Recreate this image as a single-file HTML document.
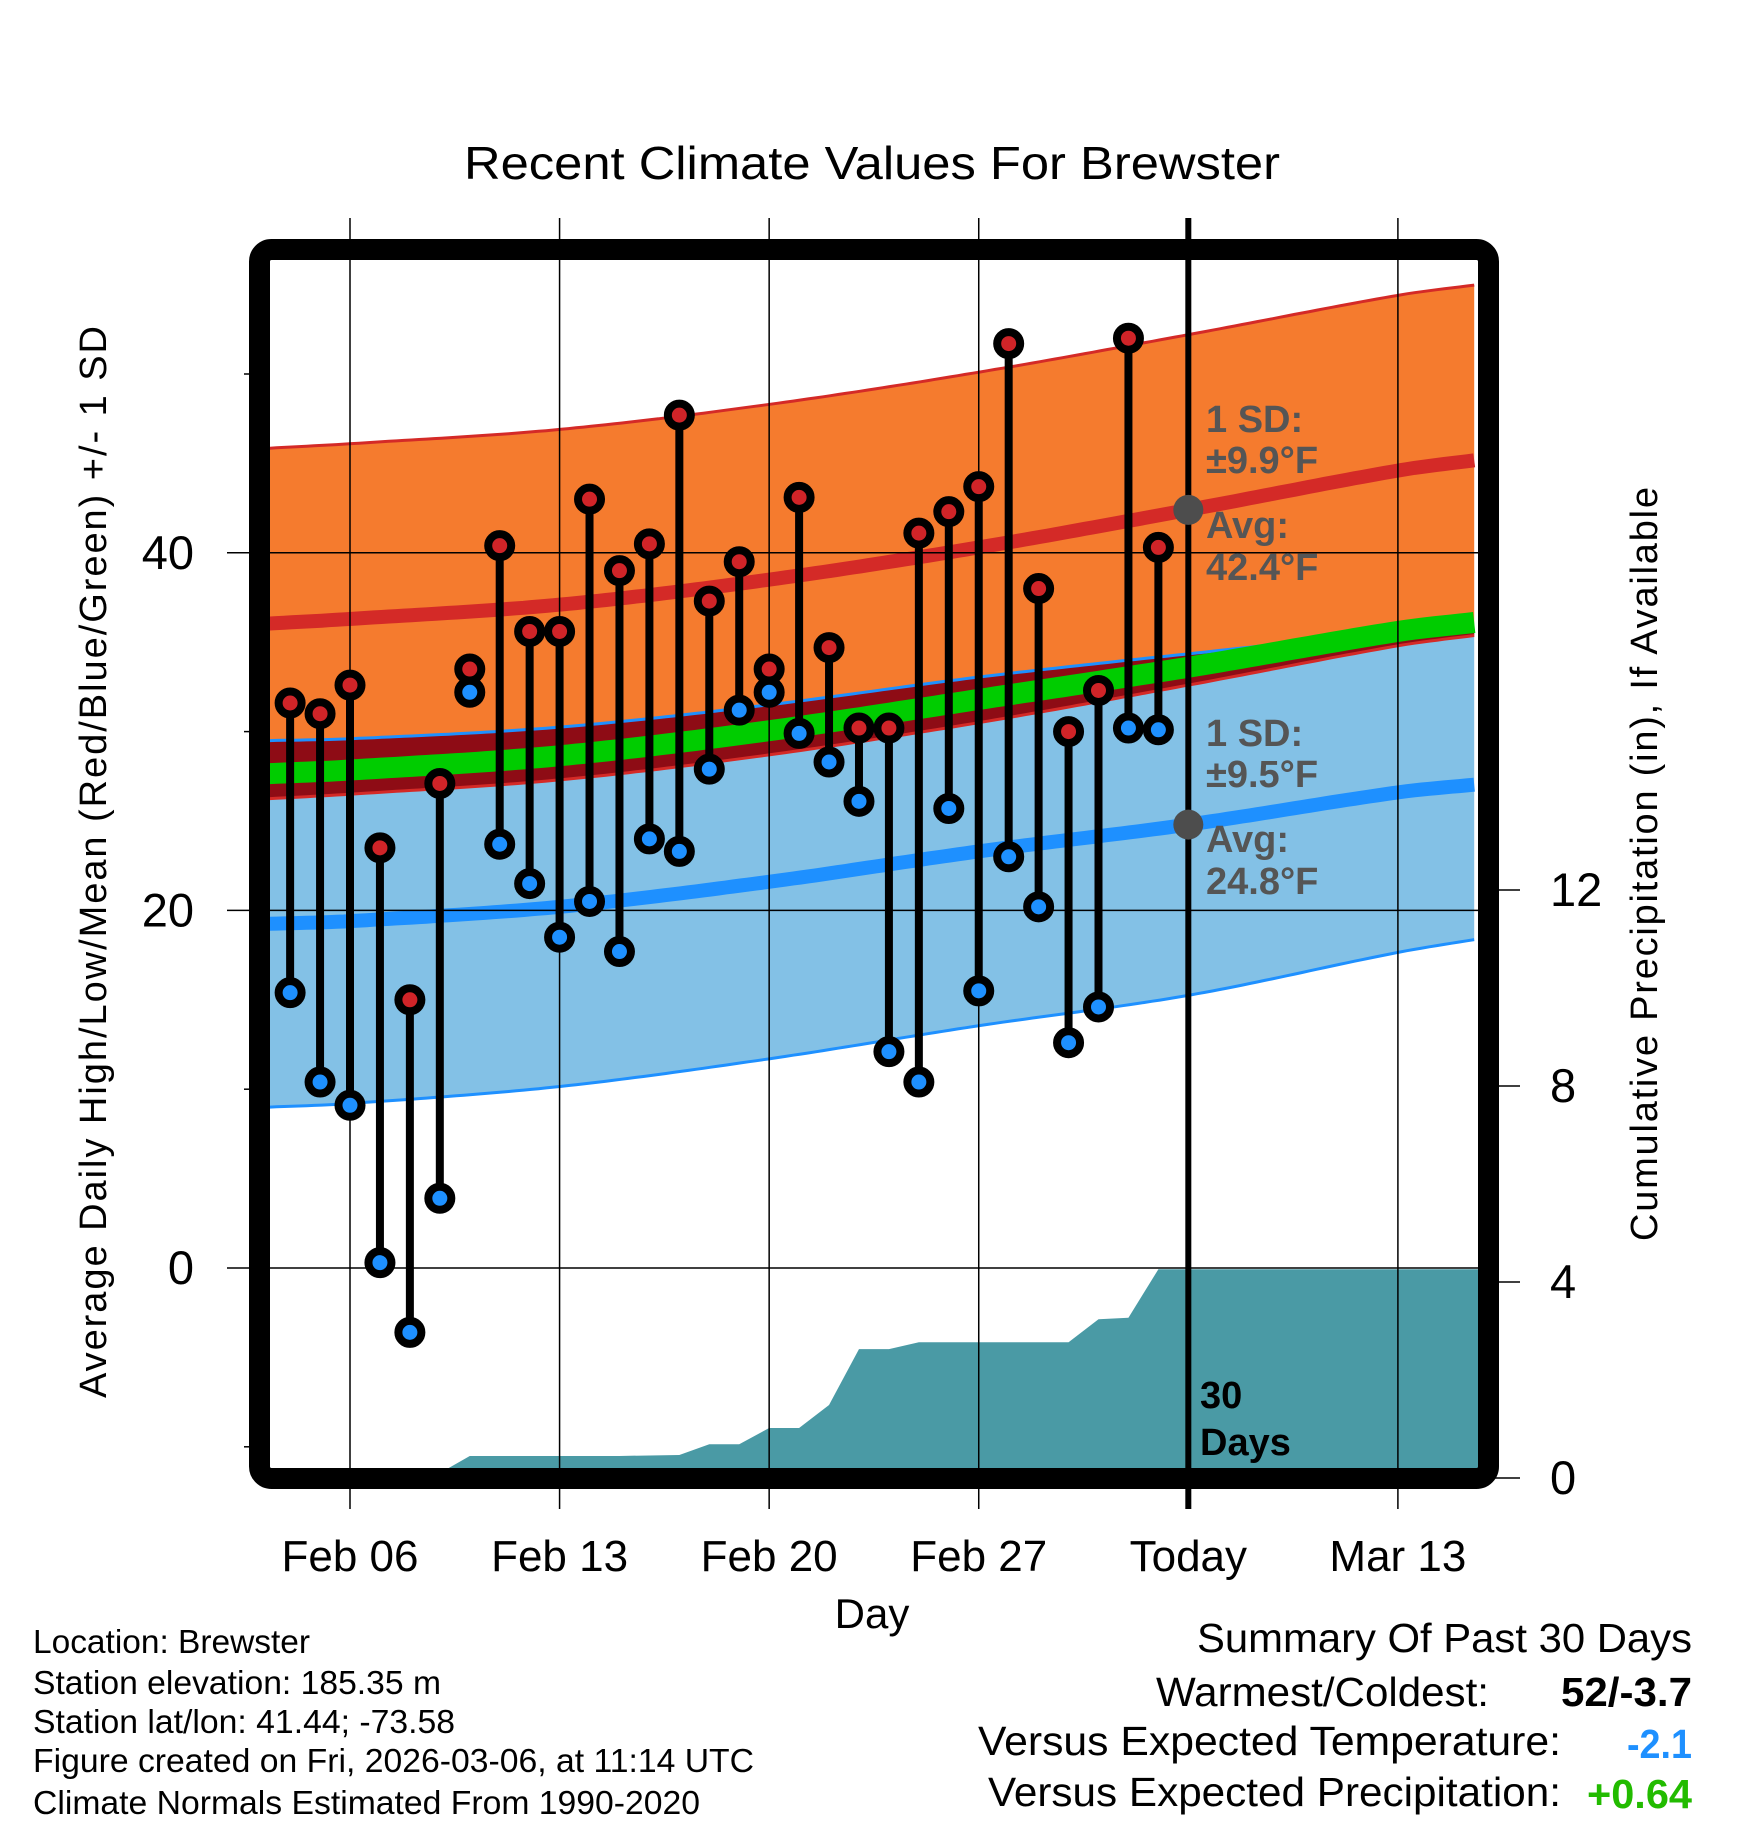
<!DOCTYPE html>
<html><head><meta charset="utf-8"><style>
html,body{margin:0;padding:0;background:#fff;}
svg{display:block;font-family:"Liberation Sans",sans-serif;}
</style></head><body>
<svg id="chart" width="1748" height="1828" viewBox="0 0 1748 1828" xmlns="http://www.w3.org/2000/svg">
<defs><clipPath id="plotclip"><rect x="270" y="260" width="1208" height="1208"/></clipPath></defs>
<text x="872" y="179" font-size="46" text-anchor="middle" textLength="816" lengthAdjust="spacingAndGlyphs">Recent Climate Values For Brewster</text>
<g id="fills" clip-path="url(#plotclip)"></g>
<g id="grid"></g>
<g id="marks"></g>
<rect x="259.5" y="249.5" width="1229" height="1229" rx="12" fill="none" stroke="#000" stroke-width="21"/>
<g id="axes"></g>
<text transform="translate(106,862) rotate(-90)" font-size="38" text-anchor="middle" textLength="1072">Average Daily High/Low/Mean (Red/Blue/Green) +/- 1 SD</text>
<text transform="translate(1657,864) rotate(-90)" font-size="38" text-anchor="middle" textLength="754">Cumulative Precipitation (in), If Available</text>
<text x="872" y="1628" font-size="42" text-anchor="middle">Day</text>
<g font-size="33">
<text x="33" y="1653" textLength="277" lengthAdjust="spacingAndGlyphs">Location: Brewster</text>
<text x="33" y="1694" textLength="408" lengthAdjust="spacingAndGlyphs">Station elevation: 185.35 m</text>
<text x="33" y="1733" textLength="422" lengthAdjust="spacingAndGlyphs">Station lat/lon: 41.44; -73.58</text>
<text x="33" y="1772" textLength="721" lengthAdjust="spacingAndGlyphs">Figure created on Fri, 2026-03-06, at 11:14 UTC</text>
<text x="33" y="1814" textLength="667" lengthAdjust="spacingAndGlyphs">Climate Normals Estimated From 1990-2020</text>
</g>
<g font-size="41">
<text x="1197" y="1652" textLength="495" lengthAdjust="spacingAndGlyphs">Summary Of Past 30 Days</text>
<text x="1156" y="1706" textLength="333" lengthAdjust="spacingAndGlyphs">Warmest/Coldest:</text>
<text x="1561" y="1706" font-weight="bold" textLength="131" lengthAdjust="spacingAndGlyphs">52/-3.7</text>
<text x="978" y="1755" textLength="583" lengthAdjust="spacingAndGlyphs">Versus Expected Temperature:</text>
<text x="1627" y="1758" font-weight="bold" fill="#1e90ff" textLength="65" lengthAdjust="spacingAndGlyphs">-2.1</text>
<text x="988" y="1806" textLength="573" lengthAdjust="spacingAndGlyphs">Versus Expected Precipitation:</text>
<text x="1587" y="1808" font-weight="bold" fill="#22bb00" textLength="105" lengthAdjust="spacingAndGlyphs">+0.64</text>
</g>
</svg>
<script>
// data days are offsets from Feb 06
const dataDays = [-2,-1,0,1,2,3,4,5,6,7,8,9,10,11,12,13,14,15,16,17,18,19,20,21,22,23,24,25,26,27];
const highs = [31.6,31.0,32.6,23.5,15.0,27.1,33.5,40.4,35.6,35.6,43.0,39.0,40.5,47.7,37.3,39.5,33.5,43.1,34.7,30.2,30.2,41.1,42.3,43.7,51.7,38.0,30.0,32.3,52.0,40.3];
const lows = [15.4,10.4,9.1,0.3,-3.6,3.9,32.2,23.7,21.5,18.5,20.5,17.7,24.0,23.3,27.9,31.2,32.2,29.9,28.3,26.1,12.1,10.4,25.7,15.5,23.0,20.2,12.6,14.6,30.2,30.1];
const precipCum = [0.1,0.1,0.1,0.1,0.1,0.1,0.45,0.45,0.45,0.45,0.45,0.45,0.46,0.47,0.69,0.69,1.02,1.02,1.49,2.63,2.63,2.77,2.77,2.77,2.77,2.77,2.77,3.24,3.27,4.26];
const normDays = [-2.67,0,7,14,21,28,35,37.67];
const highAvg = [36.05,36.3,37.1,38.5,40.3,42.4,44.6,45.2];
const highSd = [9.8,9.8,9.8,9.8,9.8,9.8,9.8,9.8];
const lowAvg = [19.25,19.4,20.2,21.6,23.3,24.8,26.6,27.05];
const lowSd = [10.25,10.2,10.05,9.9,9.75,9.55,8.95,8.65];
const xTickDays = [0,7,14,21,28,35];
const xTickLabels = ["Feb 06","Feb 13","Feb 20","Feb 27","Today","Mar 13"];
const yMajor = [0,20,40];
const yMinor = [-10,10,30,50];
const y2Ticks = [0,4,8,12];
const todayDay = 28;

const NS="http://www.w3.org/2000/svg";
const X = d => 350 + d*29.94;
const Y = t => 1268 - t*17.88;
const YP = p => 1478 - p*49;
const XL = 270, XR = 1478;
function mk(tag, attrs, parent){const e=document.createElementNS(NS,tag);for(const k in attrs)e.setAttribute(k,attrs[k]);parent.appendChild(e);return e;}
function slope(arr,i){const n=normDays.length;const a=Math.max(0,i-1),b=Math.min(n-1,i+1);return (arr[b]-arr[a])/(normDays[b]-normDays[a]);}
function interp(arr,d){const n=normDays.length;let i=0;while(i<n-2&&d>normDays[i+1])i++;
  const x0=normDays[i],x1=normDays[i+1],h=x1-x0,t=(d-x0)/h;
  const m0=slope(arr,i)*h,m1=slope(arr,i+1)*h;
  const t2=t*t,t3=t2*t;
  return (2*t3-3*t2+1)*arr[i]+(t3-2*t2+t)*m0+(-2*t3+3*t2)*arr[i+1]+(t3-t2)*m1;}
const samp=[];for(let d=-2.7;d<=37.75;d+=0.25)samp.push(d);
const hiU=samp.map(d=>interp(highAvg,d)+interp(highSd,d));
const hiL=samp.map(d=>interp(highAvg,d)-interp(highSd,d));
const loU=samp.map(d=>interp(lowAvg,d)+interp(lowSd,d));
const loL=samp.map(d=>interp(lowAvg,d)-interp(lowSd,d));
const hiA=samp.map(d=>interp(highAvg,d));
const loA=samp.map(d=>interp(lowAvg,d));
const mean=samp.map((d,i)=>(hiA[i]+loA[i])/2);
const pl = a => samp.map((d,i)=>X(d).toFixed(1)+","+Y(a[i]).toFixed(1));
function band(u,l){return pl(u).concat(pl(l).reverse()).join(" ");}
const fills=document.getElementById('fills');
let e;
e=mk('polygon',{points:band(hiU,hiL),fill:'#f57b2e'},fills);


e=mk('polygon',{points:band(loU,loL),fill:'#83c1e6'},fills);


const ovU=samp.map((d,i)=>Math.max(loU[i],hiL[i])), ovL=hiL;
e=mk('polygon',{points:band(ovU,ovL),fill:'#8e0c15'},fills);


// precipitation
const pp=[XL+","+YP(precipCum[0])];
dataDays.forEach((d,i)=>pp.push(X(d)+","+YP(precipCum[i])));
pp.push(XR+","+YP(precipCum[precipCum.length-1]),XR+",1480",XL+",1480");
e=mk('polygon',{points:pp.join(" "),fill:'#4a9aa5'},fills);


function line(a,col,w,name){const l=mk('polyline',{points:pl(a).join(" "),fill:'none',stroke:col,'stroke-width':w},fills);}
line(hiU,'#d42a27',3,'high-sd-upper-line');
line(hiL,'#d42a27',3,'high-sd-lower-line');
line(loU,'#1e90ff',3,'low-sd-upper-line');
line(loL,'#1e90ff',3,'low-sd-lower-line');
line(hiA,'#d42a27',14,'high-avg-line');
line(loA,'#1e90ff',14,'low-avg-line');
line(mean,'#00cc00',21,'mean-avg-line');
// grid
const grid=document.getElementById('grid');
xTickDays.forEach((d,i)=>{
  e=mk('line',{x1:X(d),x2:X(d),y1:218,y2:1509,stroke:'#000','stroke-width':d===todayDay?6:1.5},grid);
  
  
  e=mk('text',{x:X(d),y:1571,'font-size':44,'text-anchor':'middle'},grid);
  e.textContent=xTickLabels[i];
  
  
});
yMajor.forEach(t=>{
  e=mk('line',{x1:227,x2:XR,y1:Y(t),y2:Y(t),stroke:'#000','stroke-width':1.5},grid);
  
  
  e=mk('text',{x:194,y:Y(t)+16,'font-size':47,'text-anchor':'end'},grid);
  e.textContent=t;
  
  
});
yMinor.forEach(t=>{
  e=mk('line',{x1:244,x2:260,y1:Y(t),y2:Y(t),stroke:'#000','stroke-width':1.5},grid);
  
  
});
y2Ticks.forEach(p=>{
  e=mk('line',{x1:1488,x2:1520,y1:YP(p),y2:YP(p),stroke:'#000','stroke-width':1.5},grid);
  
  
  e=mk('text',{x:1550,y:YP(p)+16,'font-size':47},grid);
  e.textContent=p;
  
  
});
// annotations
const marks=document.getElementById('marks');
e=mk('circle',{cx:X(todayDay),cy:Y(interp(highAvg,todayDay)),r:15,fill:'#4d4d4d'},marks);


e=mk('circle',{cx:X(todayDay),cy:Y(interp(lowAvg,todayDay)),r:15,fill:'#4d4d4d'},marks);


const ann=[["1 SD:",432],["±9.9°F",473],["Avg:",538],["42.4°F",580],["1 SD:",746],["±9.5°F",787],["Avg:",852],["24.8°F",894]];
ann.forEach(a=>{
  e=mk('text',{x:1206,y:a[1],'font-size':38,'font-weight':'bold',fill:'#555'},marks);
  e.textContent=a[0];
  
  
});
[["30",1408],["Days",1455]].forEach(a=>{
  e=mk('text',{x:1200,y:a[1],'font-size':38,'font-weight':'bold',fill:'#000'},marks);
  e.textContent=a[0];
  
  
});
dataDays.forEach((d,i)=>{
  e=mk('line',{x1:X(d),x2:X(d),y1:Y(highs[i]),y2:Y(lows[i]),stroke:'#000','stroke-width':8},marks);
  
  
});
dataDays.forEach((d,i)=>{
  e=mk('circle',{cx:X(d),cy:Y(highs[i]),r:11.5,fill:'#d02428',stroke:'#000','stroke-width':8},marks);
  
  
  e=mk('circle',{cx:X(d),cy:Y(lows[i]),r:11.5,fill:'#1e90ff',stroke:'#000','stroke-width':8},marks);
  
  
});
</script>
</body></html>
